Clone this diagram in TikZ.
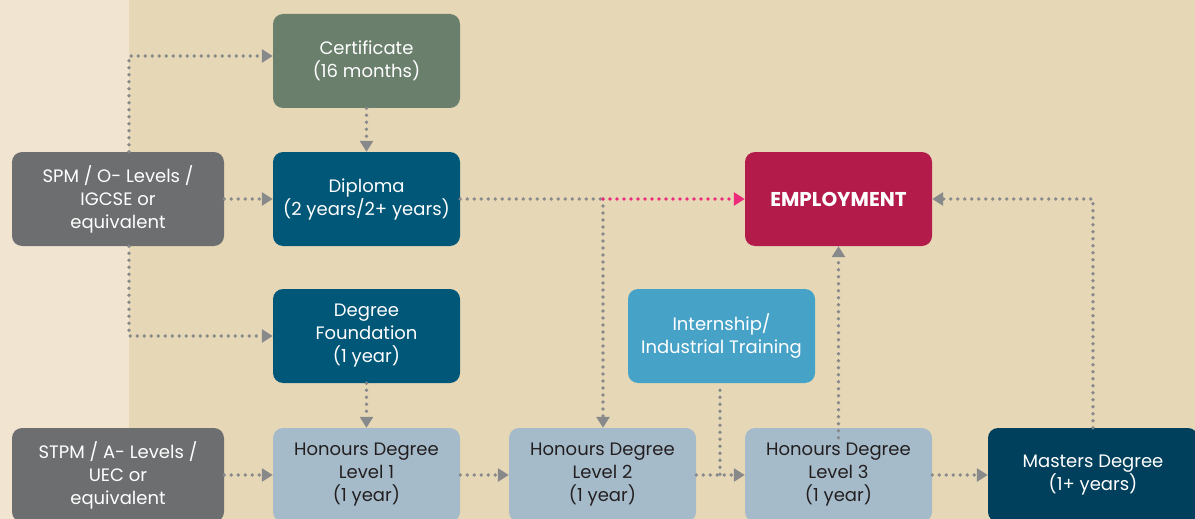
\documentclass[tikz,border=0pt]{standalone}
\usepackage{fontspec}
\setmainfont{Poppins}
\usetikzlibrary{arrows.meta}
\definecolor{bgleft}{HTML}{F1E5D2}
\definecolor{bgmain}{HTML}{E6D8B6}
\definecolor{cgreen}{HTML}{6B7F6D}
\definecolor{cteal}{HTML}{005778}
\definecolor{cgray}{HTML}{6D6E70}
\definecolor{clight}{HTML}{A6BBCA}
\definecolor{csky}{HTML}{47A2C7}
\definecolor{cnavy}{HTML}{00405C}
\definecolor{cred}{HTML}{B31B4B}
\definecolor{cdot}{HTML}{88898B}
\definecolor{cpink}{HTML}{EE2A7B}
\definecolor{ctext}{HTML}{231F20}
\begin{document}
\begin{tikzpicture}[x=1pt,y=-1pt,
  box/.style={rounded corners=10pt,minimum width=187pt,minimum height=94pt,inner sep=0pt,
    align=center,font=\fontsize{18}{23}\selectfont,text=white},
  conn/.style={draw=cdot,line width=3.8pt,line cap=round,dash pattern=on 0pt off 7pt,
    -{Triangle[length=11pt,width=13pt,fill=cdot]}},
  plain/.style={draw=cdot,line width=3.8pt,line cap=round,dash pattern=on 0pt off 7pt}]
\useasboundingbox (0,0) rectangle (1195,519);
\fill[bgmain] (0,0) rectangle (1195,519);
\fill[bgleft] (0,0) rectangle (129,519);

\node[box,fill=cgreen] (cert) at (366.5,61) {Certificate\\(16 months)};
\node[box,fill=cteal] (dip) at (366.5,199) {Diploma\\(2 years/2+ years)};
\node[box,fill=cgray,minimum width=212pt] (spm) at (118,199) {SPM / O- Levels /\\IGCSE or\\equivalent};
\node[box,fill=cteal] (found) at (366.5,336) {Degree\\Foundation\\(1 year)};
\node[box,fill=cgray,minimum width=212pt] (stpm) at (118,475) {STPM / A- Levels /\\UEC or\\equivalent};
\node[box,fill=clight,text=ctext] (hd1) at (366.5,475) {Honours Degree\\Level 1\\(1 year)};
\node[box,fill=clight,text=ctext] (hd2) at (602.5,475) {Honours Degree\\Level 2\\(1 year)};
\node[box,fill=clight,text=ctext] (hd3) at (838.5,475) {Honours Degree\\Level 3\\(1 year)};
\node[box,fill=cnavy,minimum width=210pt] (mast) at (1093,475) {Masters Degree\\(1+ years)};
\node[box,fill=csky] (intern) at (721.5,336) {Internship/\\Industrial Training};
\node[box,fill=cred,font=\fontsize{20}{23}\selectfont\bfseries] (emp) at (838.5,199) {EMPLOYMENT};

\coordinate (c1) at (129,56);
\coordinate (c2) at (129,336);
\coordinate (j1) at (603,199);
\coordinate (j2) at (720,475);
\coordinate (m1) at (1093,199);

\draw[conn] (spm.north -| c1) -- (c1) -- (cert.west |- c1);
\draw[conn] (spm.south -| c2) -- (c2) -- (found.west);
\draw[conn] (spm.east) -- (dip.west);
\draw[conn] (cert.south) -- (dip.north);
\draw[conn] (found.south) -- (hd1.north);
\draw[conn] (stpm.east) -- (hd1.west);
\draw[conn] (hd1.east) -- (hd2.west);
\draw[conn] (hd2.east) -- (hd3.west);
\draw[conn] (hd3.east) -- (mast.west);
\draw[plain] (dip.east) -- (j1);
\draw[conn] (j1) -- (hd2.north -| j1);
\draw[draw=cpink,line width=3.8pt,line cap=round,dash pattern=on 0pt off 7pt,
    -{Triangle[length=11pt,width=13pt,fill=cpink]}] (j1) -- (emp.west);
\draw[plain] ([yshift=-7pt]intern.south -| j2) -- (j2);
\draw[conn] ([yshift=-10pt]hd3.north) -- (emp.south);
\draw[conn] (mast.north -| m1) -- (m1) -- (emp.east);
\end{tikzpicture}
\end{document}
